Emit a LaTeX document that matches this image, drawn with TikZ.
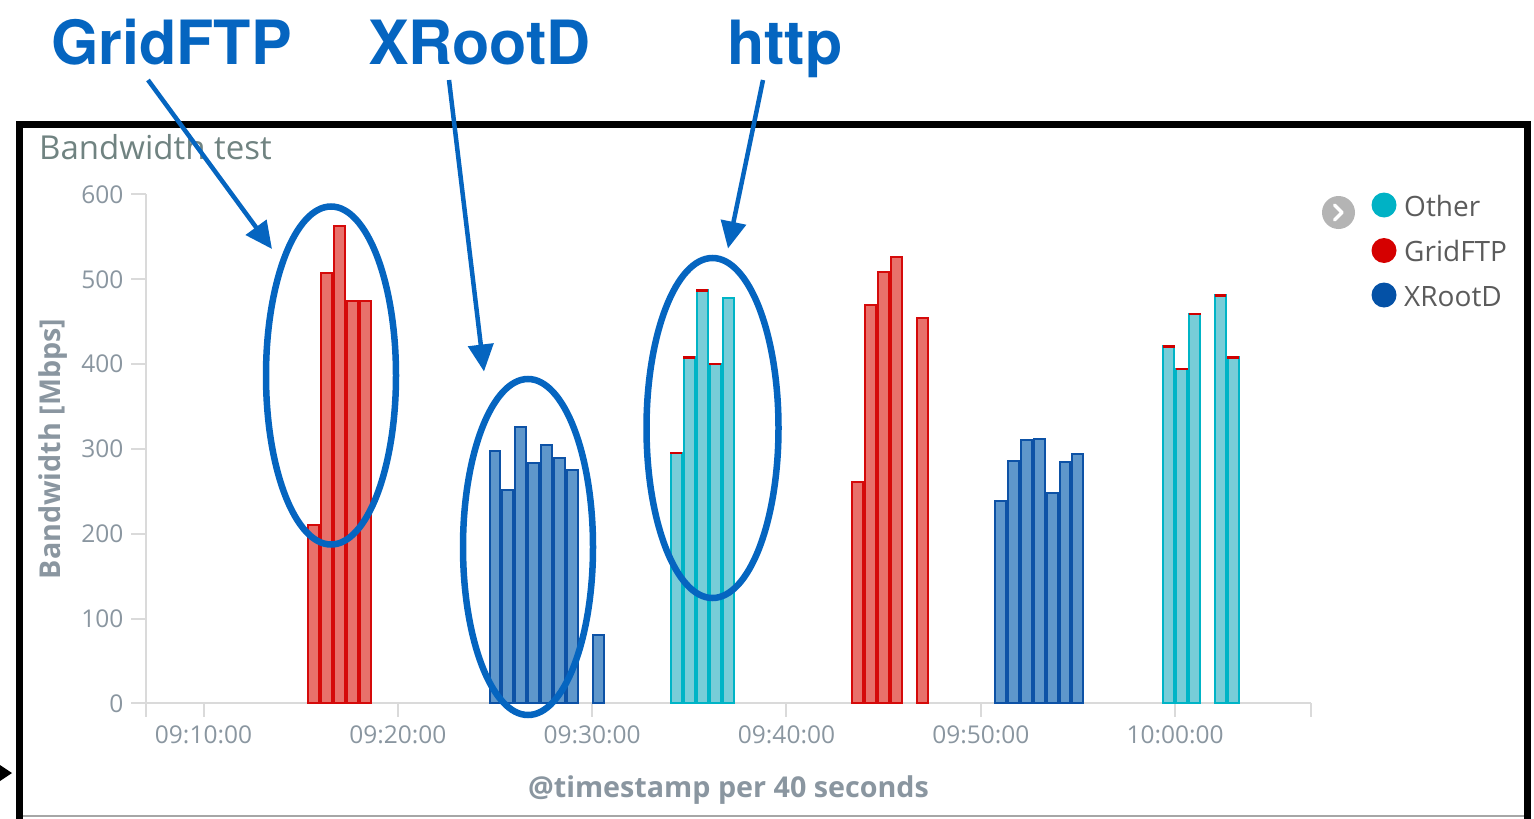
\documentclass[tikz,border=0pt]{standalone}
\usepackage{fontspec}
\setmainfont{Open Sans}
\newfontfamily\annofont{TeX Gyre Heros}
\usetikzlibrary{arrows.meta}
\definecolor{anno}{HTML}{0565C0}
\definecolor{redfill}{HTML}{E8716B}
\definecolor{redline}{HTML}{D50A0A}
\definecolor{bluefill}{HTML}{5F97CB}
\definecolor{blueline}{HTML}{0D52A6}
\definecolor{cyanfill}{HTML}{78CDD8}
\definecolor{cyanline}{HTML}{00B4C6}
\definecolor{capred}{HTML}{D00000}
\definecolor{axisgray}{HTML}{DADADA}
\definecolor{ticklab}{HTML}{8A96A0}
\definecolor{titlegray}{HTML}{708381}
\definecolor{legtext}{HTML}{5B5B5B}
\definecolor{legcyan}{HTML}{00B2C5}
\definecolor{legred}{HTML}{D50000}
\definecolor{legblue}{HTML}{0451A6}
\definecolor{btngray}{HTML}{B4B4B4}
\tikzset{
  redbar/.style={fill=redfill, draw=redline, line width=2pt},
  bluebar/.style={fill=bluefill, draw=blueline, line width=2pt},
  cyanbar/.style={fill=cyanfill, draw=cyanline, line width=2pt},
  capline/.style={draw=capred, line width=2.5pt},
  annoarrow/.style={draw=anno, line width=4.5pt, -{Triangle[length=27pt,width=25pt]}},
  annoellipse/.style={draw=anno, line width=6.5pt},
  bigtext/.style={font=\annofont\bfseries\fontsize{61}{61}\selectfont, text=anno, inner sep=0pt, anchor=base west},
  ticklabel/.style={font=\fontsize{24.5}{24.5}\selectfont, text=ticklab, inner sep=0pt},
  axistitle/.style={font=\bfseries\fontsize{28.7}{28.7}\selectfont, text=ticklab, inner sep=0pt},
  axisline/.style={draw=axisgray, line width=2pt},
  legdot/.style={circle, inner sep=0pt, minimum size=25pt},
  legtxt/.style={font=\fontsize{28}{28}\selectfont, text=legtext, inner sep=0pt, anchor=base west},
}
\begin{document}
\begin{tikzpicture}[x=1pt,y=-1pt]
\useasboundingbox (0,0) rectangle (1534,819);
\clip (0,0) rectangle (1534,819);
% frame
\draw[line width=7pt] (19.5,840) -- (19.5,124) -- (1527,124) -- (1527,840);
\draw[gray!70, line width=1.5pt] (23,816) -- (1523.5,816);
\fill (0,765) -- (12,773) -- (0,781) -- cycle;
% title
\node[font=\fontsize{33}{33}\selectfont, text=titlegray, inner sep=0pt, anchor=base west] (title) at (39,159) {Bandwidth test};
% axes
\draw[axisline] (146,194) -- (146,717);
\draw[axisline] (131,703.3) -- (1310.5,703.3);
\draw[axisline] (1310.5,703.3) -- (1310.5,717);
\foreach \v in {100,200,...,600}
  \draw[axisline] (131,{703.3-0.848*\v}) -- (146,{703.3-0.848*\v});
\foreach \v in {0,100,...,600}
  \node[ticklabel, anchor=east] (y\v) at (123.5,{703.3-0.848*\v}) {\v};
\foreach \i/\t in {0/09:10:00,1/09:20:00,2/09:30:00,3/09:40:00,4/09:50:00,5/10:00:00} {
  \draw[axisline] ({203.5+194.33*\i},703.3) -- ({203.5+194.33*\i},717);
  \node[ticklabel, anchor=base] (x\i) at ({203.5+194.33*\i},743.5) {\t};
}
\node[axistitle, rotate=90] (ytitle) at (53,449) {Bandwidth [Mbps]};
\node[axistitle, anchor=base] (xtitle) at (728.5,797) {@timestamp per 40 seconds};
% bars
\foreach \n/\v in {8/210,9/508,10/563,11/474,12/474,50/261,51/470,52/509,53/526,55/454}
  \draw[redbar] ({203.5+12.955*\n+1},703.3) rectangle ({203.5+12.955*(\n+1)-1},{703.3-0.848*\v});
\foreach \n/\v in {22/298,23/252,24/326,25/283,26/305,27/289,28/275,30/80,61/238,62/286,63/310,64/312,65/248,66/285,67/294}
  \draw[bluebar] ({203.5+12.955*\n+1},703.3) rectangle ({203.5+12.955*(\n+1)-1},{703.3-0.848*\v});
\foreach \n/\v in {36/295,37/408,38/487,39/400,40/478,74/421,75/394,76/459,78/481,79/408}
  \draw[cyanbar] ({203.5+12.955*\n+1},703.3) rectangle ({203.5+12.955*(\n+1)-1},{703.3-0.848*\v});
\foreach \n/\v in {36/295,37/408,38/487,39/400,74/421,75/394,76/459,78/481,79/408}
  \draw[capline] ({203.5+12.955*\n+0.5},{703.3-0.848*\v}) -- ({203.5+12.955*(\n+1)-0.5},{703.3-0.848*\v});
% legend
\node[circle, fill=btngray, inner sep=0pt, minimum size=33pt] (btn) at (1338.5,212.5) {};
\draw[white, line width=3.5pt, line cap=round, line join=round] (1334.5,205) -- (1342,212.5) -- (1334.5,220);
\node[legdot, fill=legcyan] (dotother) at (1384,205) {};
\node[legdot, fill=legred] (dotgrid) at (1384,250.5) {};
\node[legdot, fill=legblue] (dotxrd) at (1384,295) {};
\node[legtxt] (legother) at (1404,216) {Other};
\node[legtxt] (leggrid) at (1404,261.5) {GridFTP};
\node[legtxt] (legxrd) at (1404,306.5) {XRootD};
% annotations
\node[bigtext] (lgrid) at (51,64) {GridFTP};
\node[bigtext] (lxrd) at (368,64) {XRootD};
\node[bigtext] (lhttp) at (727,64) {http};
\coordinate (sgrid) at (148,80);
\coordinate (tgrid) at (272,249);
\coordinate (sxrd) at (449,80);
\coordinate (txrd) at (484,371.5);
\coordinate (shttp) at (763,80);
\coordinate (thttp) at (728,248.5);
\draw[annoarrow] (sgrid) -- (tgrid);
\draw[annoarrow] (sxrd) -- (txrd);
\draw[annoarrow] (shttp) -- (thttp);
\draw[annoellipse] (331,375.5) ellipse [x radius=65pt, y radius=169pt];
\draw[annoellipse] (528,547) ellipse [x radius=65pt, y radius=168pt];
\draw[annoellipse] (712.5,428) ellipse [x radius=66pt, y radius=170pt];
\end{tikzpicture}
\end{document}
